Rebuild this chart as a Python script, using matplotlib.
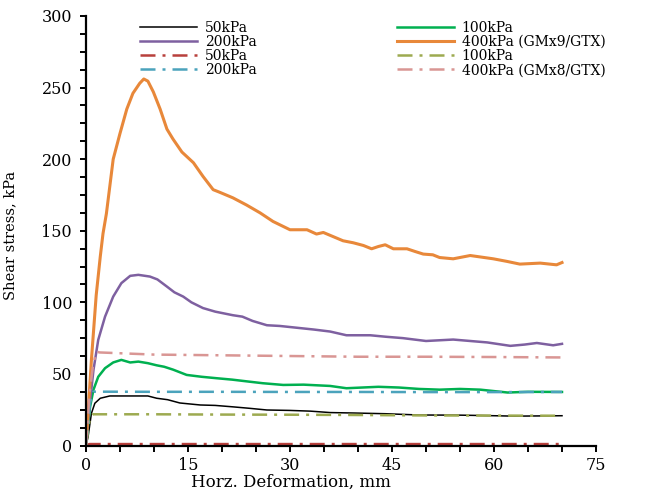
import matplotlib
matplotlib.use("Agg")
import matplotlib.pyplot as plt
from matplotlib.ticker import MultipleLocator

# ---- data ----
x50 = [0, 0.3, 0.8, 1.3, 2.1, 3.5, 9.1, 10.4, 12.0, 13.8, 16.8, 19.0, 21.6, 24.0, 26.6,
       30.0, 33.0, 35.9, 39.3, 44.0, 49.0, 55.0, 60.0, 63.0, 70.0]
y50 = [0, 6, 22.5, 29.5, 33, 34.6, 34.6, 33, 32, 29.7, 28.3, 28, 27, 26, 24.8,
       24.5, 24, 23, 22.7, 22.2, 21.3, 21.2, 20.8, 20.5, 20.8]

x100 = [0, 0.1, 0.6, 1.1, 1.8, 2.8, 4.0, 5.2, 6.5, 7.7, 9.1, 10.4, 11.5, 12.8, 14.8, 17.0,
        19.2, 21.5, 24.0, 26.0, 29.0, 32.0, 35.9, 38.3, 43.0, 46.0, 49.0, 52.0, 55.0, 58.0,
        60.0, 62.0, 65.0, 70.0]
y100 = [0, 6, 27, 39, 48, 54, 58, 59.8, 58, 58.6, 57.5, 56, 55, 53, 49.3, 48,
        47, 46, 44.6, 43.5, 42.3, 42.5, 41.6, 40, 41, 40.5, 39.5, 39, 39.5, 39,
        38, 37, 37.5, 37.4]

x200 = [0, 0.35, 1.1, 1.8, 2.8, 4.0, 5.2, 6.5, 7.7, 9.4, 10.5, 11.9, 13.0, 14.3, 15.5, 17.2,
        19.0, 21.6, 23.0, 24.5, 26.6, 28.5, 31.5, 33.5, 35.9, 38.3, 41.8, 44.0, 46.6, 50.0,
        54.0, 56.5, 59.0, 62.4, 64.5, 66.3, 68.7, 70.0]
y200 = [0, 20, 52.8, 73.8, 90, 104, 113.4, 118.5, 119.2, 118, 116, 111, 107, 104, 100, 96,
        93.5, 91, 90, 87, 84, 83.5, 82, 81, 79.6, 77, 77, 76, 75, 73,
        74, 73, 72, 69.6, 70.5, 71.6, 70, 71]

x400 = [0, 0.4, 0.8, 1.5, 2.1, 2.5, 3.0, 4.0, 5.0, 6.0, 6.9, 7.9, 8.5, 9.1, 9.9, 10.9,
        11.9, 12.8, 14.1, 15.8, 17.2, 18.7, 19.7, 21.6, 23.6, 25.6, 27.5, 30.0, 31.5, 32.5,
        33.9, 34.9, 36.3, 37.8, 39.3, 40.8, 42.0, 43.0, 44.0, 45.2, 47.2, 48.4, 49.6, 51.0,
        52.0, 54.0, 56.5, 59.9, 61.9, 63.8, 66.8, 69.2, 70.0]
y400 = [0, 30, 60, 105, 132, 148, 162, 200, 218, 235, 246, 253, 256, 254.5, 247, 235,
        221, 214, 205, 197.5, 188, 178.7, 176.8, 173, 168, 162.5, 156.5, 150.7, 150.7, 150.7,
        147.7, 148.8, 146, 143, 141.6, 139.7, 137.4, 139, 140.2, 137.4, 137.4, 135.5, 133.7, 133.2,
        131.3, 130.4, 132.7, 130.4, 128.6, 126.7, 127.4, 126.2, 127.8]

# GMx8/GTX series (dash-dot)
xd50 = [0, 0.5, 10, 20, 30, 40, 50, 60, 70]
yd50 = [0, 1.0, 1.0, 1.0, 1.0, 1.0, 1.0, 1.0, 1.0]

xd100 = [0, 0.6, 1.0, 10, 20, 30, 40, 50, 60, 70]
yd100 = [0, 20, 21.8, 21.8, 21.6, 21.5, 21.3, 21.0, 20.9, 20.8]

xd200 = [0, 0.3, 0.6, 1.1, 10, 20, 30, 40, 50, 60, 70]
yd200 = [0, 15, 30, 37.6, 37.5, 37.5, 37.4, 37.4, 37.3, 37.3, 37.4]

xd400 = [0, 0.5, 1.0, 1.5, 2.0, 10, 20, 30, 40, 50, 60, 70]
yd400 = [0, 35, 55, 65.6, 65, 63.5, 63, 62.5, 62, 62, 61.8, 61.5]

labels_solid = ["50kPa", "100kPa", "200kPa", "400kPa (GMx9/GTX)"]
labels_dash = ["50kPa", "100kPa", "200kPa", "400kPa (GMx8/GTX)"]

x_ticks = [0, 15, 30, 45, 60, 75]
y_ticks = [0, 50, 100, 150, 200, 250, 300]

# ---- style ----
c_solid = ["#000000", "#00B050", "#7E60A0", "#E8883A"]
lw_solid = [1.1, 1.8, 1.8, 2.2]
c_dash = ["#B8403C", "#9DAA50", "#4BA3BC", "#D99694"]
dashpat = (0, (6, 2.8, 1.2, 2.8))

FONT = "DejaVu Serif"
plt.rcParams["font.family"] = FONT

fig = plt.figure(figsize=(6.45, 4.93), dpi=100)
ax = fig.add_axes([86 / 645, 1 - 445.5 / 493, 510 / 645, (445.5 - 16) / 493])

solid_series = [(x50, y50), (x100, y100), (x200, y200), (x400, y400)]
dash_series = [(xd50, yd50), (xd100, yd100), (xd200, yd200), (xd400, yd400)]

hs, hd = [], []
for (xs, ys), c, lw, lab in zip(solid_series, c_solid, lw_solid, labels_solid):
    h, = ax.plot(xs, ys, color=c, lw=lw, label=lab, solid_joinstyle="round")
    hs.append(h)
for (xs, ys), c, lab in zip(dash_series, c_dash, labels_dash):
    h, = ax.plot(xs, ys, color=c, lw=1.8, linestyle=dashpat, label=lab)
    hd.append(h)

ax.set_xlim(0, 75)
ax.set_ylim(0, 300)
ax.set_xticks(x_ticks)
ax.set_yticks(y_ticks)
ax.xaxis.set_minor_locator(MultipleLocator(5))
ax.yaxis.set_minor_locator(MultipleLocator(12.5))
for s in ["top", "right"]:
    ax.spines[s].set_visible(False)
for s in ["left", "bottom"]:
    ax.spines[s].set_linewidth(1.6)
ax.tick_params(axis="both", which="both", direction="out", length=4, width=1.4,
               labelsize=11.5, pad=4)
ax.tick_params(axis="y", which="major", pad=6)

ax.set_ylabel("Shear stress, kPa", fontsize=10.5)
ax.yaxis.set_label_coords(-0.135, 0.49)
ax.set_xlabel("Horz. Deformation, mm", fontsize=12)
ax.xaxis.set_label_coords(0.402, -0.085)
ax.xaxis.label.set_va("center")

leg_kw = dict(frameon=False, fontsize=10, handlelength=4.1, handletextpad=0.55,
              labelspacing=0.02, borderpad=0, borderaxespad=0, loc="upper left")
leg1 = ax.legend([hs[0], hs[2], hd[0], hd[2]],
                 [labels_solid[0], labels_solid[2], labels_dash[0], labels_dash[2]],
                 bbox_to_anchor=(140 / 645, 1 - 20.5 / 493), bbox_transform=fig.transFigure,
                 **leg_kw)
ax.add_artist(leg1)
leg2 = ax.legend([hs[1], hs[3], hd[1], hd[3]],
                 [labels_solid[1], labels_solid[3], labels_dash[1], labels_dash[3]],
                 bbox_to_anchor=(397 / 645, 1 - 20.5 / 493), bbox_transform=fig.transFigure,
                 **leg_kw)

fig.savefig("out.png", dpi=100)
